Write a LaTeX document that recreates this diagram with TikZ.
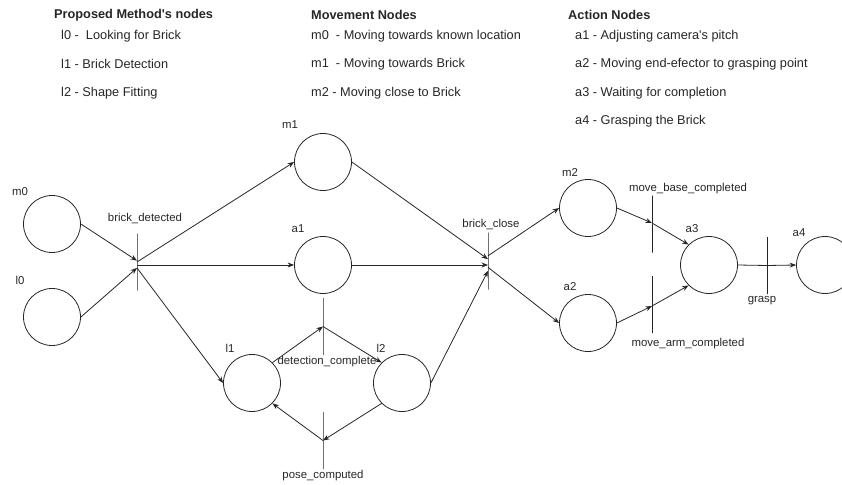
\documentclass[tikz,border=0pt]{standalone}
\usepackage{fontspec}
\setmainfont{Liberation Sans}
\usetikzlibrary{arrows.meta}
\begin{document}
\begin{tikzpicture}[x=1pt,y=-1pt,
  every node/.style={text=black!85},
  place/.style={circle,draw=black!85,line width=0.8pt,minimum size=57pt,inner sep=0pt},
  transbar/.style={draw=black!85,line width=0.8pt,minimum width=0pt,minimum height=57pt,inner sep=0pt,outer sep=0pt},
  lbl/.style={font=\fontsize{11.4}{13}\selectfont,inner sep=0pt},
  hdr/.style={font=\fontsize{12.75}{15}\selectfont\bfseries,anchor=west,inner sep=0pt},
  itm/.style={font=\fontsize{12.75}{15}\selectfont,anchor=west,inner sep=0pt},
  arc/.style={draw=black!85,line width=0.8pt,-{Stealth[length=6.5pt,width=5pt]}},
  plainarc/.style={draw=black!85,line width=0.8pt}
]
\useasboundingbox (0,0) rectangle (842,484);

% header texts
\node[hdr] (h1) at (54,15) {Proposed Method\textquotesingle s nodes};
\node[itm] (h1a) at (61,36) {l0 -\ \ Looking for Brick};
\node[itm] (h1b) at (61,64) {l1 - Brick Detection};
\node[itm] (h1c) at (61,93) {l2 - Shape Fitting};
\node[hdr] (h2) at (311,15) {Movement Nodes};
\node[itm] (h2a) at (311,36) {m0\ \ - Moving towards known location};
\node[itm] (h2b) at (311,64) {m1\ \ - Moving towards Brick};
\node[itm] (h2c) at (311,93) {m2 - Moving close to Brick};
\node[hdr] (h3) at (568,15) {Action Nodes};
\node[itm] (h3a) at (575,36) {a1 - Adjusting camera\textquotesingle s pitch};
\node[itm] (h3b) at (575,64) {a2 - Moving end-efector to grasping point};
\node[itm] (h3c) at (575,93) {a3 - Waiting for completion};
\node[itm] (h3d) at (575,121) {a4 - Grasping the Brick};

% places
\node[place] (m0) at (52,224) {};
\node[place] (l0) at (52,317) {};
\node[place] (m1) at (323,162) {};
\node[place] (a1) at (323,265) {};
\node[place] (l1) at (252,383) {};
\node[place] (l2) at (402,383) {};
\node[place] (m2) at (588,208) {};
\node[place] (a2) at (588,323) {};
\node[place] (a3) at (709,265) {};
\node[place] (a4) at (825,265) {};

% place labels
\node[lbl] (tm0) at (20,192) {m0};
\node[lbl] (tl0) at (20,280) {l0};
\node[lbl] (tm1) at (290,125) {m1};
\node[lbl] (ta1) at (298,229) {a1};
\node[lbl] (tl1) at (230,348) {l1};
\node[lbl] (tl2) at (381,348) {l2};
\node[lbl] (tm2) at (570,173) {m2};
\node[lbl] (ta2) at (570,287) {a2};
\node[lbl] (ta3) at (692,229) {a3};
\node[lbl] (ta4) at (799,233) {a4};

% transitions
\node[transbar] (bd) at (137,262) {};
\node[transbar] (bc) at (488,261) {};
\node[transbar] (dc) at (323,326.5) {};
\node[transbar] (pc) at (323,440.5) {};
\node[transbar] (mbc) at (652,224) {};
\node[transbar] (mac) at (652,304.5) {};
\node[transbar] (gr) at (767,265.5) {};

% transition labels
\node[lbl] (tbd) at (145,219) {brick\_detected};
\node[lbl] (tbc) at (491,225) {brick\_close};
\node[lbl] (tdc) at (327,362) {detection\_complete};
\node[lbl] (tpc) at (323,476) {pose\_computed};
\node[lbl] (tmbc) at (688,189) {move\_base\_completed};
\node[lbl] (tmac) at (688,344) {move\_arm\_completed};
\node[lbl] (tgr) at (762,301) {grasp};

% arcs
\draw[arc] (m0.east) -- ([yshift=1.3pt]bd.center);
\draw[arc] (l0.east) -- ([yshift=-5.9pt]bd.center);
\draw[arc] (bd.center) -- (m1.west);
\draw[arc] ([yshift=-3pt]bd.center) -- (a1.west);
\draw[arc] ([yshift=-5.9pt]bd.center) -- (l1.west);

\draw[arc] (m1.east) -- ([yshift=1.8pt]bc.center);
\draw[arc] (a1.east) -- ([yshift=-4pt]bc.center);
\draw[arc] (l2.east) -- ([yshift=-9.8pt]bc.center);
\draw[arc] ([yshift=5.2pt]bc.center) -- (m2.west);
\draw[arc] ([yshift=-6.3pt]bc.center) -- (a2.west);

\draw[arc] (l1.north east) -- (dc.center);
\draw[arc] (dc.center) -- (l2.north west);
\draw[arc] (l2.south west) -- (pc.center);
\draw[arc] (pc.center) -- (l1.south east);

\draw[arc] (m2.east) -- ([yshift=1pt]mbc.center);
\draw[arc] ([yshift=1pt]mbc.center) -- (a3.north west);
\draw[arc] (a2.east) -- ([yshift=-1.5pt]mac.center);
\draw[arc] ([yshift=-1.5pt]mac.center) -- (a3.south west);

\draw[plainarc] (a3.east) -- (gr.center);
\draw[arc] (gr.center) -- (a4.west);
\end{tikzpicture}
\end{document}
